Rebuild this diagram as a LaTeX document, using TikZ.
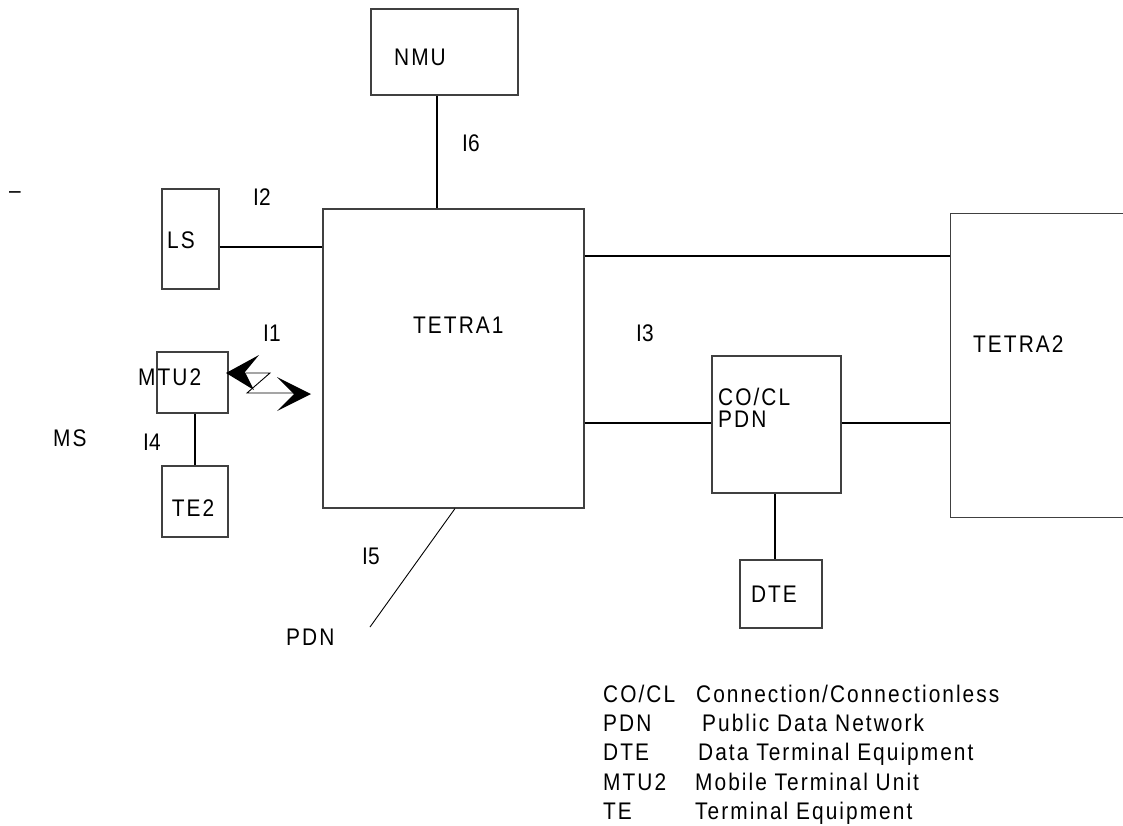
\documentclass[tikz,border=0pt]{standalone}
\usepackage{fontspec}
\setmainfont[LetterSpace=8.5, FakeStretch=0.87]{Liberation Sans}
\begin{document}
\begin{tikzpicture}[x=1pt,y=-1pt,
  box/.style={draw=black!75, line width=1.1pt, inner sep=0pt, rectangle},
  conn/.style={line width=1.9pt, black},
  thinln/.style={line width=0.9pt, black},
  lbl/.style={inner sep=0pt, text height=17.2pt, text depth=0pt, font=\fontsize{24}{28}\selectfont},
  ilbl/.style={lbl, font=\fontsize{24}{28}\selectfont\addfontfeature{LetterSpace=0}},
]
\clip (0,0) rectangle (1123,825);
\fill[white] (0,0) rectangle (1123,825);

% helper coordinates for connector positions
\coordinate (x437) at (437,0);
\coordinate (x455) at (455,0);
\coordinate (x775) at (775,0);
\coordinate (x195) at (195,0);
\coordinate (y247) at (0,247);
\coordinate (y256) at (0,256);
\coordinate (y423) at (0,423);

% boxes
\node[box, minimum width=147pt, minimum height=86pt]  (nmu)    at (444.5,52) {};
\node[box, minimum width=261pt, minimum height=299pt] (tetra1) at (453.5,358.5) {};
\node[box, minimum width=57pt,  minimum height=100pt] (ls)     at (190.5,239) {};
\node[box, minimum width=71pt,  minimum height=61pt]  (mtu2)   at (192.5,382.5) {};
\node[box, minimum width=66pt,  minimum height=71pt]  (te2)    at (195,501.5) {};
\node[box, minimum width=129pt, minimum height=137pt] (cocl)   at (776.5,424.5) {};
\node[box, minimum width=82pt,  minimum height=68pt]  (dte)    at (781,594) {};
\node[box, minimum width=200pt, minimum height=304pt, anchor=north west] (tetra2) at (950,213) {};

% box texts
\node[lbl, anchor=west] (tnmu)  at (394,57)  {NMU};
\node[lbl, anchor=west] (tt1)   at (413,325) {TETRA1};
\node[lbl, anchor=west] (tls)   at (167,240) {LS};
\node[lbl, anchor=west] (tmtu)  at (138,377) {MTU2};
\node[lbl]              (tte2)  at (193,508) {TE2};
\node[lbl, anchor=west] (tco)   at (718,397) {CO/CL};
\node[lbl, anchor=west] (tpdn1) at (718,419) {PDN};
\node[lbl]              (tdte)  at (774,594) {DTE};
\node[lbl, anchor=west] (tt2)   at (973,344) {TETRA2};

% interface labels
\node[ilbl, anchor=west] (i6) at (462,143) {I6};
\node[ilbl, anchor=west] (i2) at (253,197) {I2};
\node[ilbl, anchor=west] (i1) at (263,333) {I1};
\node[ilbl, anchor=west] (i3) at (636,333) {I3};
\node[ilbl, anchor=west] (i4) at (143,442) {I4};
\node[ilbl, anchor=west] (i5) at (362,556) {I5};
\node[lbl, anchor=west] (ms) at (53,438)  {MS};
\node[lbl, anchor=west] (pdn) at (286,637) {PDN};
\node[inner sep=0pt, font=\fontsize{24}{28}\selectfont] (dash) at (15,195) {–};

% connectors
\draw[conn] (nmu.south -| x437) -- (tetra1.north -| x437);
\draw[conn] (ls.east |- y247) -- (tetra1.west |- y247);
\draw[conn] (tetra1.east |- y256) -- (tetra2.west |- y256);
\draw[conn] (tetra1.east |- y423) -- (cocl.west |- y423);
\draw[conn] (cocl.east |- y423) -- (tetra2.west |- y423);
\draw[conn] (cocl.south -| x775) -- (dte.north -| x775);
\draw[conn] (mtu2.south -| x195) -- (te2.north -| x195);
\coordinate (pdnend) at (370,627);
\draw[thinln] (tetra1.south -| x455) -- (pdnend);

% radio link (lightning arrow) between MTU2 and TETRA1
\coordinate (ltip) at (226,373);
\coordinate (rtip) at (311,394);
\fill (ltip) -- (259,355) -- (245,372) -- (254,390) -- cycle;
\fill (rtip) -- (277,377) -- (294,394) -- (277,411) -- cycle;
\draw[thinln] (246,373) -- (270,373) -- (247,393) -- (294,393);

% legend
\node[lbl, anchor=west] (a1) at (603,694) {CO/CL};
\node[lbl, anchor=west] (d1) at (696,694) {Connection/Connectionless};
\node[lbl, anchor=west] (a2) at (603,723) {PDN};
\node[lbl, anchor=west] (d2) at (702,723) {Public Data Network};
\node[lbl, anchor=west] (a3) at (603,752) {DTE};
\node[lbl, anchor=west] (d3) at (698,752) {Data Terminal Equipment};
\node[lbl, anchor=west] (a4) at (603,782) {MTU2};
\node[lbl, anchor=west] (d4) at (695,782) {Mobile Terminal Unit};
\node[lbl, anchor=west] (a5) at (603,811) {TE};
\node[lbl, anchor=west] (d5) at (695,811) {Terminal Equipment};
\end{tikzpicture}
\end{document}
